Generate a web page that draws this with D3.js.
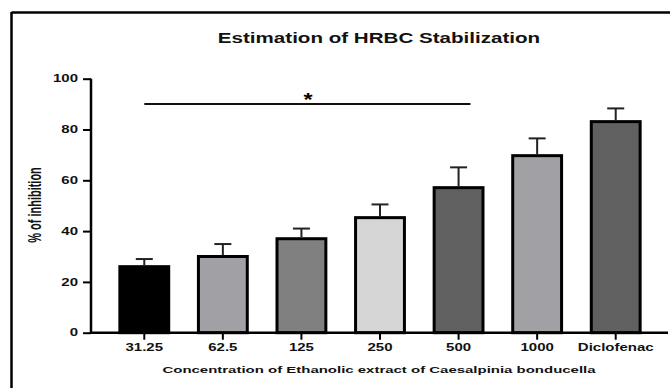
<!DOCTYPE html>
<html>
<head>
<meta charset="utf-8">
<script src="https://cdn.jsdelivr.net/npm/d3@7"></script>
<style>
  body { margin: 0; background: #fff; }
  text { font-family: "Liberation Sans", Arial, sans-serif; }
</style>
</head>
<body>
<div id="chart"></div>
<script>
// Data
const categories = ["31.25", "62.5", "125", "250", "500", "1000", "Diclofenac"];
const meanValues = [26.0, 30.0, 37.0, 45.3, 57.1, 69.7, 83.1];
const errorTops = [29.0, 34.9, 41.0, 50.5, 65.1, 76.5, 88.3];
const barColors = ["#000000", "#a1a1a5", "#808080", "#d5d5d5", "#606060", "#a1a1a5", "#606060"];
const yTicks = [0, 20, 40, 60, 80, 100];
const sigLevel = 90;

const width = 670, height = 388;
// the source figure is stretched sideways, so text is too
const stretch = 1.5;

const svg = d3.select("#chart")
  .append("svg")
  .attr("width", width)
  .attr("height", height);

// frame (top + left edges visible)
svg.append("line")
  .attr("x1", 11.5).attr("x2", width)
  .attr("y1", 12.5).attr("y2", 12.5)
  .attr("stroke", "#000").attr("stroke-width", 2.5);
svg.append("line")
  .attr("x1", 11.5).attr("x2", 11.5)
  .attr("y1", 12).attr("y2", height)
  .attr("stroke", "#000").attr("stroke-width", 2.5);

// scales
const x = d3.scaleBand()
  .domain(categories)
  .range([105, 655])
  .paddingInner(0.34)
  .paddingOuter(0.17);

const y = d3.scaleLinear()
  .domain([0, 100])
  .range([332.7, 78.7]);

const axisLeft = 91;

// y axis
const yAxis = d3.axisLeft(y).tickValues(yTicks).tickSize(8).tickPadding(5);
const gy = svg.append("g")
  .attr("transform", "translate(" + axisLeft + ",0)")
  .call(yAxis);
gy.select(".domain").attr("stroke-width", 2.5)
  .attr("d", "M0," + y(100) + "V" + (y(0) + 1));
gy.selectAll(".tick line").attr("stroke-width", 2);
gy.selectAll(".tick text")
  .attr("x", -13 / stretch)
  .attr("transform", "scale(" + stretch + ",1)")
  .attr("font-size", 10).attr("font-weight", "bold").attr("fill", "#111");

// bars
svg.selectAll(".bar")
  .data(categories)
  .enter()
  .append("rect")
  .attr("class", "bar")
  .attr("x", (d) => x(d) + 1.5)
  .attr("width", x.bandwidth() - 3)
  .attr("y", (d, i) => y(meanValues[i]))
  .attr("height", (d, i) => y(0) - y(meanValues[i]))
  .attr("fill", (d, i) => barColors[i])
  .attr("stroke", "#000")
  .attr("stroke-width", 3);

// error bars (upper only)
const err = svg.selectAll(".err")
  .data(categories)
  .enter()
  .append("g")
  .attr("class", "err");
err.append("line")
  .attr("x1", (d) => x(d) + x.bandwidth() / 2)
  .attr("x2", (d) => x(d) + x.bandwidth() / 2)
  .attr("y1", (d, i) => y(meanValues[i]) - 1.5)
  .attr("y2", (d, i) => y(errorTops[i]))
  .attr("stroke", "#222").attr("stroke-width", 2);
err.append("line")
  .attr("x1", (d) => x(d) + x.bandwidth() / 2 - 8.5)
  .attr("x2", (d) => x(d) + x.bandwidth() / 2 + 8.5)
  .attr("y1", (d, i) => y(errorTops[i]))
  .attr("y2", (d, i) => y(errorTops[i]))
  .attr("stroke", "#222").attr("stroke-width", 2);

// x axis
const xAxis = d3.axisBottom(x).tickSize(7).tickPadding(4);
const gx = svg.append("g")
  .attr("transform", "translate(0," + y(0) + ")")
  .call(xAxis);
gx.select(".domain").attr("stroke-width", 2.5)
  .attr("d", "M" + (axisLeft - 1) + ",0H668");
gx.selectAll(".tick line").attr("stroke-width", 2);
gx.selectAll(".tick text")
  .attr("transform", "scale(" + stretch + ",1)")
  .attr("font-size", 10).attr("font-weight", "bold").attr("fill", "#111");

// significance line
svg.append("line")
  .attr("x1", x(categories[0]) + x.bandwidth() / 2)
  .attr("x2", 470.5)
  .attr("y1", y(sigLevel))
  .attr("y2", y(sigLevel))
  .attr("stroke", "#111").attr("stroke-width", 2);
svg.append("text")
  .attr("transform", "translate(308," + (y(sigLevel) + 2) + ") scale(1.3,1)")
  .attr("text-anchor", "middle")
  .attr("font-size", 18)
  .attr("font-weight", "bold")
  .text("*");

// title
svg.append("text")
  .attr("transform", "translate(379,43) scale(1.47,1)")
  .attr("text-anchor", "middle")
  .attr("font-size", 14)
  .attr("font-weight", "bold")
  .attr("fill", "#111")
  .text("Estimation of HRBC Stabilization");

// axis titles
svg.append("text")
  .attr("transform", "translate(41,205) scale(1.6,1) rotate(-90)")
  .attr("text-anchor", "middle")
  .attr("font-size", 11)
  .attr("font-weight", "bold")
  .attr("fill", "#111")
  .text("% of inhibition");

svg.append("text")
  .attr("transform", "translate(379,372.5) scale(1.61,1)")
  .attr("text-anchor", "middle")
  .attr("font-size", 9.3)
  .attr("font-weight", "bold")
  .attr("fill", "#111")
  .text("Concentration of Ethanolic extract of Caesalpinia bonducella");
</script>
</body>
</html>
